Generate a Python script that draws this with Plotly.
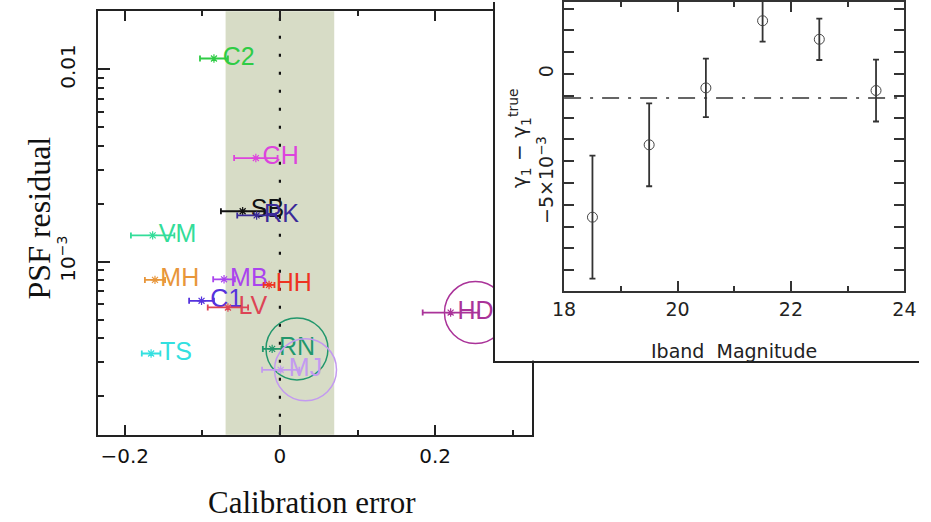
import plotly.graph_objects as go

# ---- main panel: calibration error vs PSF residual ----
names = ["C2", "CH", "SB", "RK", "VM", "MH", "MB", "HH", "C1", "LV", "TS", "RN", "MJ", "HD"]
calib = [-0.085, -0.031, -0.048, -0.030, -0.164, -0.161, -0.072, -0.014,
         -0.101, -0.067, -0.166, -0.010, 0.001, 0.220]
calib_err = [0.018, 0.028, 0.028, 0.025, 0.028, 0.013, 0.014, 0.007,
             0.016, 0.026, 0.012, 0.012, 0.024, 0.036]
psf_resid = [0.0114, 0.00346, 0.00183, 0.00174, 0.00137, 0.000804, 0.00081, 0.000757,
             0.000626, 0.000578, 0.000333, 0.000352, 0.000274, 0.000544]
colors = ["#2fcc45", "#dd44dd", "#111111", "#3a2a99", "#33dd99", "#e8963a", "#aa44ee",
          "#ee3322", "#5533dd", "#dd4455", "#33e0e0", "#22976c", "#c39af0", "#aa3399"]
circled = ["RN", "MJ", "HD"]

band_lo, band_hi = -0.07, 0.07

# ---- inset: shear bias vs magnitude ----
mag = [18.5, 19.5, 20.5, 21.5, 22.5, 23.5]
dgamma = [-6.57e-3, -3.25e-3, -0.64e-3, 2.44e-3, 1.59e-3, -0.76e-3]
dgamma_err = [2.82e-3, 1.90e-3, 1.34e-3, 0.96e-3, 0.95e-3, 1.42e-3]
mean_offset = -1.1e-3

W, H = 931, 522
LABEL_DX = 0.032          # label offset to the right of each point (data units)
AXC = "#222222"
TICKFONT = dict(family="DejaVu Sans", size=20, color="#111111")
INFONT = dict(family="DejaVu Sans", size=19, color="#222222")

fig = go.Figure()

for n, x, ex, y, c in zip(names, calib, calib_err, psf_resid, colors):
    fig.add_trace(go.Scatter(
        x=[x], y=[y], mode="markers", xaxis="x", yaxis="y",
        marker=dict(symbol="asterisk-open", size=7, color=c, line=dict(color=c, width=1.2)),
        error_x=dict(type="constant", value=ex, color=c, thickness=1.8, width=3),
        showlegend=False, hoverinfo="skip"))
    fig.add_trace(go.Scatter(
        x=[x + LABEL_DX], y=[y], mode="text", text=[n], textposition="middle center",
        textfont=dict(family="Liberation Sans", size=25, color=c),
        xaxis="x", yaxis="y", showlegend=False, hoverinfo="skip"))
    if n in circled:
        fig.add_trace(go.Scatter(
            x=[x + LABEL_DX], y=[y], mode="markers", xaxis="x", yaxis="y",
            marker=dict(symbol="circle-open", size=62, color=c, line=dict(color=c, width=1.5)),
            showlegend=False, hoverinfo="skip"))

# empty trace so the white inset frame exists as its own subplot
fig.add_trace(go.Scatter(x=[None], y=[None], xaxis="x2", yaxis="y2", mode="markers",
                         showlegend=False, hoverinfo="skip"))

fig.add_trace(go.Scatter(
    x=mag, y=dgamma, mode="markers", xaxis="x3", yaxis="y3",
    marker=dict(symbol="circle-open", size=10, color="#444444", line=dict(color="#444444", width=1)),
    error_y=dict(type="data", array=dgamma_err, color="#333333", thickness=1.8, width=3),
    showlegend=False, hoverinfo="skip"))

# calibration-error band and zero line
fig.add_shape(type="rect", xref="x", yref="y domain", x0=band_lo, x1=band_hi, y0=0, y1=1,
              fillcolor="#d7dcc6", line=dict(width=0), layer="below")
fig.add_shape(type="line", xref="x", yref="y domain", x0=0, x1=0, y0=0, y1=1,
              line=dict(color="#111111", width=2.2, dash="3px,15px"), layer="below")
# mean offset in inset
fig.add_shape(type="line", xref="x3 domain", yref="y3", x0=0, x1=1, y0=mean_offset, y1=mean_offset,
              line=dict(color="#333333", width=1.6, dash="17px,9px,3px,9px"))

main_minor = [k * 1e-4 for k in range(2, 10)] + [k * 1e-3 for k in range(2, 10)]

fig.update_layout(
    width=W, height=H, autosize=False,
    margin=dict(l=0, r=0, t=0, b=0),
    paper_bgcolor="white", plot_bgcolor="white",
    xaxis=dict(domain=[88.3 / W, 533.3 / W], range=[-0.2344, 0.3243], anchor="y",
               tickvals=[-0.2, 0, 0.2], ticktext=["\u22120.2", "0", "0.2"],
               ticks="inside", ticklen=10, tickwidth=1.8, tickcolor=AXC,
               minor=dict(tickvals=[-0.1, 0.1, 0.3], ticks="inside", ticklen=5,
                          tickwidth=1.8, tickcolor=AXC),
               showline=True, linecolor=AXC, linewidth=2, mirror="ticks",
               showgrid=False, zeroline=False, tickfont=TICKFONT, ticklabelstandoff=2),
    yaxis=dict(domain=[1 - 434.3 / H, 1 - 9.3 / H], type="log", range=[-3.8995, -1.6974],
               anchor="x",
               tickvals=[1e-3, 1e-2], ticktext=["10<sup>\u22123</sup>", "0.01"], tickangle=-90,
               ticks="inside", ticklen=12, tickwidth=1.8, tickcolor=AXC,
               minor=dict(tickvals=main_minor, ticks="inside", ticklen=6,
                          tickwidth=1.8, tickcolor=AXC),
               showline=True, linecolor=AXC, linewidth=2, mirror=True,
               showgrid=False, zeroline=False, tickfont=TICKFONT, ticklabelstandoff=13),
    # white frame holding the inset
    xaxis2=dict(domain=[495.7 / W, 1.0], range=[0, 1], anchor="y2", showline=True,
                linecolor=AXC, linewidth=2, showticklabels=False, ticks="",
                showgrid=False, zeroline=False, fixedrange=True),
    yaxis2=dict(domain=[1 - 360 / H, 1.0], range=[0, 1], anchor="x2", showline=True,
                linecolor=AXC, linewidth=2, showticklabels=False, ticks="",
                showgrid=False, zeroline=False, fixedrange=True),
    xaxis3=dict(domain=[566.7 / W, 916 / W], range=[18, 24], anchor="y3",
                tickvals=[18, 20, 22, 24], ticks="inside", ticklen=10, tickwidth=1.6,
                tickcolor="#333333",
                minor=dict(tickvals=[19, 21, 23], ticks="inside", ticklen=5,
                           tickwidth=1.6, tickcolor="#333333"),
                showline=True, linecolor="#333333", linewidth=2, mirror="ticks",
                showgrid=False, zeroline=False, tickfont=INFONT, ticklabelstandoff=0),
    yaxis3=dict(domain=[1 - 290 / H, 1.0], range=[-0.00995, 0.0033], anchor="x3",
                tickvals=[-0.005, 0], ticktext=["\u22125\u00d710<sup>\u22123</sup>", "0"],
                tickangle=-90,
                ticks="inside", ticklen=10, tickwidth=1.6, tickcolor="#333333",
                minor=dict(dtick=0.001, tick0=0, ticks="inside", ticklen=10,
                           tickwidth=1.6, tickcolor="#333333"),
                showline=True, linecolor="#333333", linewidth=2, mirror="ticks",
                showgrid=False, zeroline=False, tickfont=INFONT, ticklabelstandoff=1),
    annotations=[
        dict(text="PSF residual", xref="paper", yref="paper", x=28 / W, y=1 - 217 / H,
             textangle=-90, showarrow=False, xanchor="center", yanchor="middle",
             font=dict(family="Liberation Serif", size=32, color="#111111")),
        dict(text="Calibration error", xref="paper", yref="paper", x=308 / W, y=0,
             showarrow=False, xanchor="center", yanchor="bottom",
             font=dict(family="Liberation Serif", size=31, color="#111111")),
        dict(text="Iband  Magnitude", xref="paper", yref="paper", x=741.5 / W, y=1 - 350.7 / H,
             showarrow=False, xanchor="center", yanchor="middle", font=INFONT),
        dict(text="\u03b3<sub>1</sub> \u2212 \u03b3<sub>1</sub><sup>true</sup>",
             xref="paper", yref="paper", x=521 / W, y=1 - 137 / H,
             textangle=-90, showarrow=False, xanchor="center", yanchor="middle",
             font=dict(family="DejaVu Sans", size=20, color="#222222")),
    ],
)

fig.write_html("out.html")
